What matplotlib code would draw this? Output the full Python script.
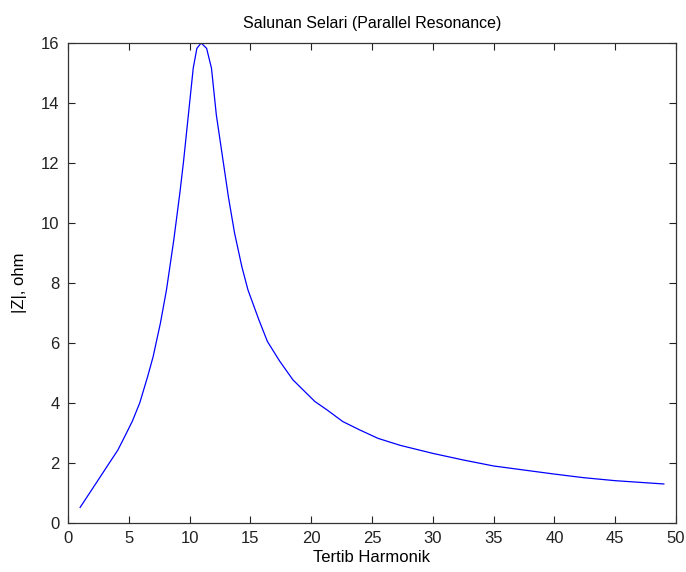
import matplotlib
matplotlib.use('Agg')
import matplotlib.pyplot as plt

# harmonic order vs |Z|
harmonik = [1.0, 2.3, 3.4, 4.1, 4.8, 5.3, 5.9, 6.55, 7.0, 7.6, 8.1, 8.7, 9.2, 9.5, 9.9,
            10.3, 10.6, 10.95, 11.4, 11.8, 12.2, 12.8, 13.2, 13.7, 14.3, 14.8,
            15.7, 16.4, 17.4, 18.5, 19.35, 20.3, 21.3, 22.6, 24.0, 25.5, 27.3, 30.0,
            32.5, 35.0, 37.4, 40.0, 42.4, 45.0, 49.0]
impedans = [0.52, 1.32, 2.0, 2.43, 2.99, 3.4, 4.0, 4.88, 5.54, 6.66, 7.77, 9.43, 11.0, 12.04, 13.6,
            15.16, 15.82, 16.0, 15.82, 15.16, 13.6, 11.95, 10.85, 9.66, 8.54, 7.77,
            6.77, 6.05, 5.4, 4.77, 4.43, 4.05, 3.77, 3.38, 3.1, 2.82, 2.59, 2.32,
            2.1, 1.90, 1.77, 1.63, 1.51, 1.41, 1.30]

xticks = list(range(0, 51, 5))
yticks = list(range(0, 17, 2))

plt.rcParams['font.family'] = ['Liberation Sans', 'DejaVu Sans']

fig = plt.figure(figsize=(6.86, 5.72), dpi=100)
ax = fig.add_axes([0.0991, 0.0857, 0.8863, 0.8392])

ax.plot(harmonik, impedans, color='#0000ff', linewidth=0.9)

ax.set_xlim(0, 50)
ax.set_ylim(0, 16)
ax.set_xticks(xticks)
ax.set_yticks(yticks)
ax.tick_params(direction='in', length=5, width=0.8, top=True, right=True,
               labelsize=12, colors='#222222', pad=6)
for s in ax.spines.values():
    s.set_linewidth(0.9)
    s.set_color('#333333')

ax.set_title('Salunan Selari (Parallel Resonance)', fontsize=11.5, pad=11)
ax.set_xlabel('Tertib Harmonik', fontsize=12, labelpad=3)
ax.set_ylabel('|Z|, ohm', fontsize=12, labelpad=10)

fig.savefig('out.png', dpi=100)
